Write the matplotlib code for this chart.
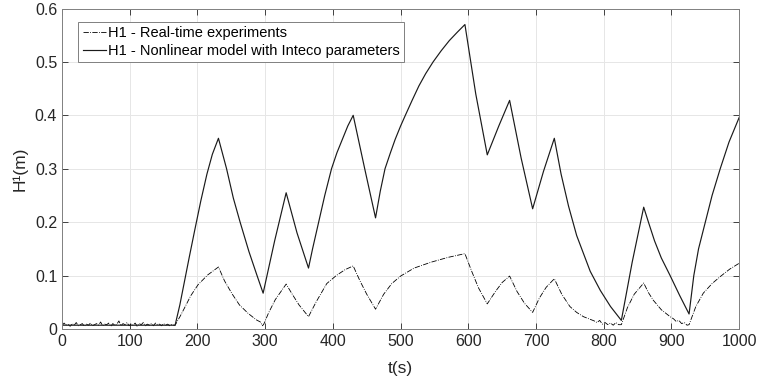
import numpy as np
import matplotlib
matplotlib.use("Agg")
import matplotlib.pyplot as plt

plt.rcParams["font.family"] = ["Liberation Sans", "DejaVu Sans"]

# ── data ─────────────────────────────────────────────────────────────────────
# H1 - real-time experiments: noisy baseline (0-165 s) ...
base_t = list(range(0, 166, 3))
base_h = [0.006, 0.011, 0.007, 0.009, 0.005, 0.010, 0.007, 0.012, 0.006,
          0.008, 0.010, 0.005, 0.009, 0.007, 0.011, 0.006, 0.008, 0.010,
          0.007, 0.013, 0.006, 0.009, 0.008, 0.011, 0.005, 0.010, 0.007,
          0.009, 0.015, 0.006, 0.010, 0.008, 0.012, 0.006, 0.009, 0.007,
          0.011, 0.005, 0.010, 0.008, 0.012, 0.006, 0.009, 0.007, 0.010,
          0.006, 0.011, 0.008, 0.009, 0.006, 0.010, 0.007, 0.009, 0.006,
          0.008, 0.007]
# ... then the tank-level response
resp_t = [167, 175, 182, 190, 201, 215, 231, 240, 251, 262, 275, 287, 293,
          296, 298, 305, 315, 331, 340, 350, 364, 375, 391, 405, 418, 430,
          440, 450, 463, 475, 487, 500, 520, 545, 570, 595, 605, 615, 628,
          640, 650, 661, 672, 683, 695, 705, 715, 727, 738, 750, 760, 770,
          780, 786, 790, 794, 798, 802, 806, 810, 814, 818, 822, 826, 835,
          845, 859, 866, 873, 885, 898, 903, 907, 911, 915, 919, 923, 926,
          936, 947, 960, 972, 986, 1000]
resp_h = [0.007, 0.025, 0.042, 0.062, 0.083, 0.101, 0.116, 0.090, 0.066,
          0.045, 0.029, 0.017, 0.013, 0.006, 0.009, 0.030, 0.055, 0.084,
          0.065, 0.045, 0.023, 0.050, 0.085, 0.100, 0.111, 0.118, 0.090,
          0.065, 0.037, 0.065, 0.085, 0.099, 0.114, 0.125, 0.134, 0.141,
          0.108, 0.077, 0.047, 0.070, 0.087, 0.099, 0.070, 0.048, 0.031,
          0.058, 0.078, 0.094, 0.065, 0.042, 0.031, 0.023, 0.018, 0.015,
          0.012, 0.016, 0.009, 0.012, 0.008, 0.011, 0.007, 0.012, 0.008,
          0.008, 0.040, 0.065, 0.086, 0.068, 0.054, 0.036, 0.023, 0.019,
          0.014, 0.016, 0.010, 0.012, 0.007, 0.008, 0.042, 0.067, 0.085,
          0.098, 0.112, 0.123]
rt_t = base_t + resp_t
rt_h = base_h + resp_h

# H1 - nonlinear model with Inteco parameters
mod_t = [0, 167, 174, 181, 188, 196, 205, 214, 222, 231, 243, 253, 263, 276,
         288, 297, 314, 331, 347, 364, 370, 379, 388, 398, 406, 414, 422, 430,
         447, 463, 470, 477, 485, 492, 500, 507, 517, 527, 537, 548, 560, 572,
         584, 595, 611, 628, 645, 661, 678, 695, 711, 727, 737, 748, 760, 780,
         795, 810, 826, 842, 859, 866, 875, 885, 898, 912, 926, 933, 940, 950,
         960, 972, 985, 1000]
mod_h = [0.007, 0.007, 0.045, 0.090, 0.135, 0.185, 0.240, 0.290, 0.327,
         0.357, 0.300, 0.245, 0.200, 0.145, 0.100, 0.067, 0.165, 0.255, 0.180,
         0.114, 0.150, 0.200, 0.250, 0.300, 0.330, 0.355, 0.380, 0.400, 0.300,
         0.208, 0.258, 0.300, 0.330, 0.355, 0.380, 0.400, 0.428, 0.455, 0.478,
         0.500, 0.521, 0.540, 0.556, 0.570, 0.440, 0.326, 0.380, 0.428, 0.320,
         0.225, 0.295, 0.357, 0.290, 0.230, 0.175, 0.108, 0.072, 0.042, 0.016,
         0.125, 0.228, 0.200, 0.165, 0.133, 0.100, 0.063, 0.028, 0.100, 0.150,
         0.200, 0.250, 0.300, 0.350, 0.396]

x_ticks = list(range(0, 1001, 100))
y_ticks = [0, 0.1, 0.2, 0.3, 0.4, 0.5, 0.6]
y_ticklabels = ["0", "0.1", "0.2", "0.3", "0.4", "0.5", "0.6"]

# ── figure ───────────────────────────────────────────────────────────────────
fig = plt.figure(figsize=(7.6, 3.87), dpi=100)
ax = fig.add_axes([0.0816, 0.150, 0.891, 0.828])

ax.plot(rt_t, rt_h, color="black", lw=0.6, ls="-.",
        label="H1 - Real-time experiments")
ax.plot(mod_t, mod_h, color="#1a1a1a", lw=0.85, ls="-",
        label="H1 - Nonlinear model with Inteco parameters")

ax.set_xlim(0, 1000)
ax.set_ylim(0, 0.6)
ax.set_xticks(x_ticks)
ax.set_yticks(y_ticks)
ax.set_yticklabels(y_ticklabels)
ax.grid(True, color="#e6e6e6", lw=0.7)
ax.set_axisbelow(True)
ax.tick_params(direction="in", top=True, right=True, length=4,
               labelsize=11.5, colors="#262626", width=0.6)
for s in ax.spines.values():
    s.set_color("#808080")
    s.set_linewidth(0.7)

ax.set_xlabel("t(s)", fontsize=12.5, color="#262626", labelpad=9)
ax.set_ylabel("H¹(m)", fontsize=12.5, color="#262626", labelpad=5)

leg = ax.legend(loc="upper left", bbox_to_anchor=(0.024, 0.958),
                borderaxespad=0, fontsize=10.5, handlelength=1.6,
                handletextpad=0.15, labelspacing=0.25, borderpad=0.3,
                fancybox=False, framealpha=1)
leg.get_frame().set_edgecolor("#808080")
leg.get_frame().set_linewidth(0.7)

fig.savefig("out.png", dpi=100)
